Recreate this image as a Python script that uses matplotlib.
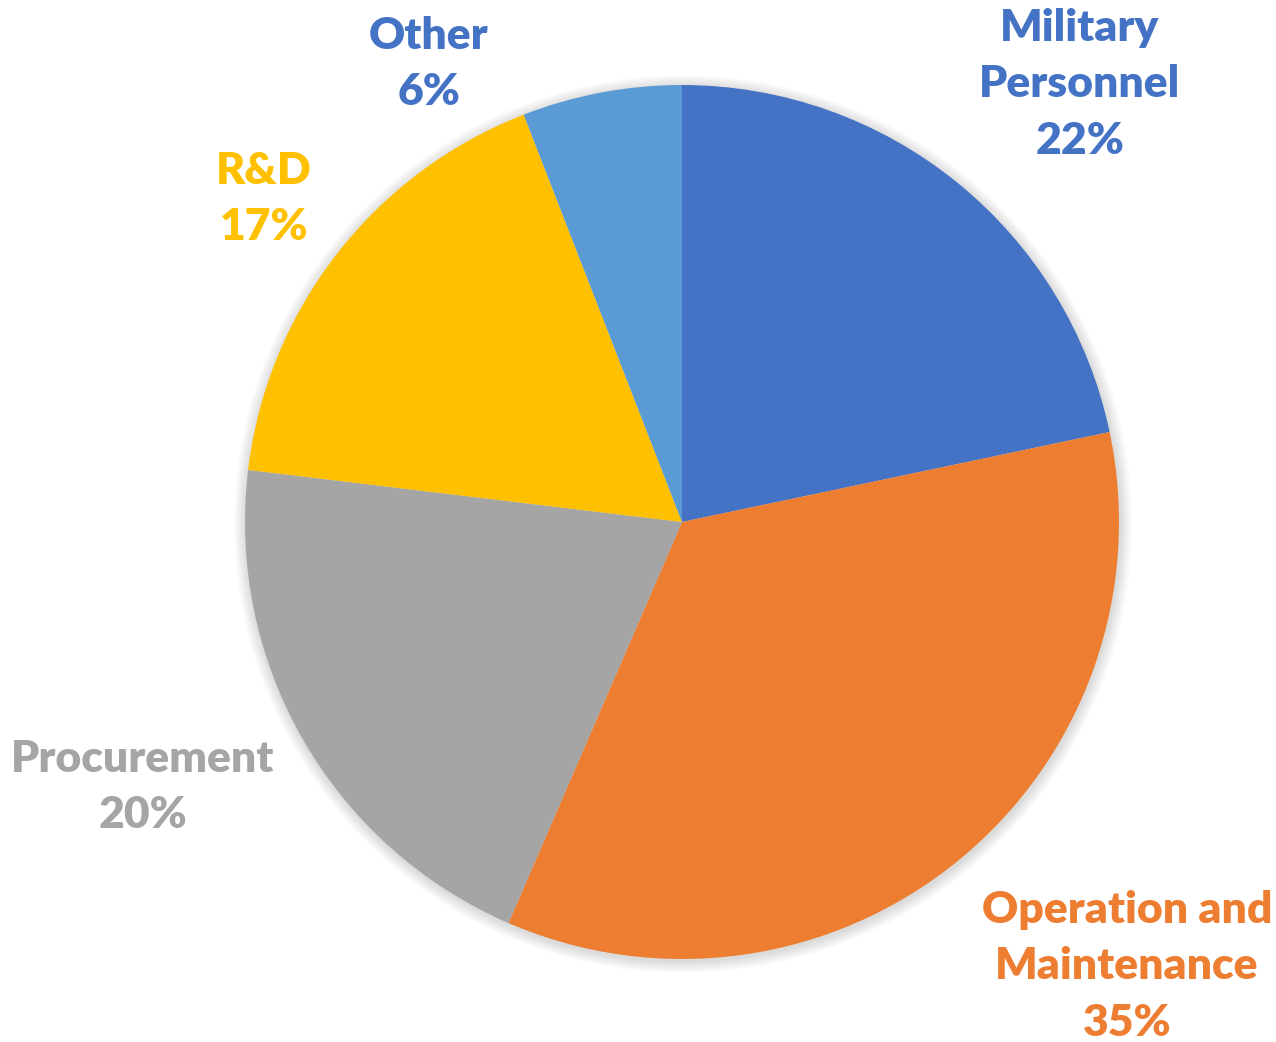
import matplotlib
matplotlib.use("Agg")
import matplotlib.pyplot as plt
from matplotlib.patches import Circle

categories = ["Military\nPersonnel", "Operation and\nMaintenance", "Procurement", "R&D", "Other"]
values = [21.7, 34.8, 20.4, 17.2, 5.9]
colors = ["#4472C4", "#ED7D31", "#A5A5A5", "#FFC000", "#5B9BD5"]
label_colors = ["#4472C4", "#ED7D31", "#A5A5A5", "#FFC000", "#4472C4"]
label_pos = [(1080, 84), (1127, 966), (143, 787), (264, 199), (429, 64)]

W, H = 1276, 1042
fig = plt.figure(figsize=(W / 100, H / 100), dpi=100)
ax = fig.add_axes([0, 0, 1, 1])

cx, cy, r = 682, H - 522, 437

# soft shadow
for i in range(12):
    ax.add_patch(Circle((cx + 1, cy - 2), r + 12 - i, color="black",
                        alpha=0.012, lw=0, zorder=0))

ax.pie(values, colors=colors, startangle=90, counterclock=False,
       center=(cx, cy), radius=r, wedgeprops=dict(linewidth=0),
       frame=False)

for cat, v, col, (lx, ly) in zip(categories, values, label_colors, label_pos):
    ax.text(lx, H - ly, f"{cat}\n{round(v)}%", color=col, ha="center",
            va="center", fontsize=32, fontweight="heavy", family="Lato",
            linespacing=1.5)

ax.set_xlim(0, W)
ax.set_ylim(0, H)
ax.set_aspect("equal")
ax.axis("off")
fig.savefig("out.png", dpi=100)
